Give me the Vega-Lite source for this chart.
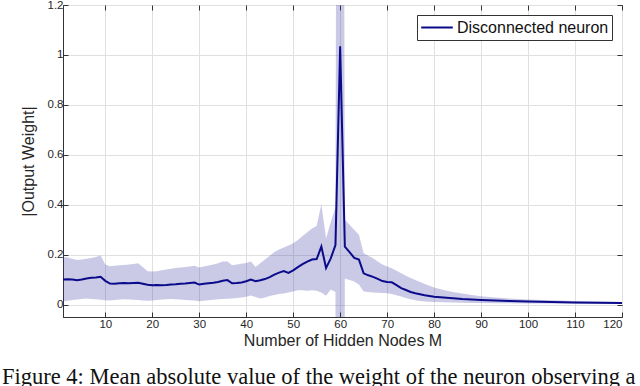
{
  "$schema": "https://vega.github.io/schema/vega-lite/v6.json",
  "autosize": {"type": "none"},
  "width": 559,
  "height": 312,
  "padding": {"left": 63, "top": 5, "right": 18, "bottom": 69},
  "background": "white",
  "config": {
    "font": "Liberation Sans",
    "view": {"stroke": "#333333", "strokeWidth": 1},
    "axis": {
      "labelFont": "Liberation Sans",
      "titleFont": "Liberation Sans",
      "labelFontSize": 11.5,
      "titleFontSize": 16,
      "labelColor": "#262626",
      "titleColor": "#262626",
      "titleFontWeight": "normal",
      "domainColor": "#333333",
      "tickColor": "#333333",
      "gridColor": "#e0e0e0",
      "tickSize": -5,
      "labelOverlap": false
    }
  },
  "title": {
    "text": "Figure 4: Mean absolute value of the weight of the neuron observing a",
    "orient": "bottom",
    "anchor": "start",
    "frame": "group",
    "dx": -61,
    "offset": 17,
    "font": "Liberation Serif",
    "fontSize": 22.5,
    "fontWeight": "normal",
    "color": "#111111"
  },
  "data": {
    "values": [
      {"m": 1, "mean": 0.100, "lo": 0.012, "hi": 0.190, "series": "Disconnected neuron"},
      {"m": 2, "mean": 0.101, "lo": 0.015, "hi": 0.188, "series": "Disconnected neuron"},
      {"m": 3, "mean": 0.100, "lo": 0.018, "hi": 0.183, "series": "Disconnected neuron"},
      {"m": 4, "mean": 0.097, "lo": 0.020, "hi": 0.178, "series": "Disconnected neuron"},
      {"m": 5, "mean": 0.100, "lo": 0.022, "hi": 0.180, "series": "Disconnected neuron"},
      {"m": 6, "mean": 0.104, "lo": 0.024, "hi": 0.183, "series": "Disconnected neuron"},
      {"m": 7, "mean": 0.107, "lo": 0.022, "hi": 0.186, "series": "Disconnected neuron"},
      {"m": 8, "mean": 0.108, "lo": 0.021, "hi": 0.190, "series": "Disconnected neuron"},
      {"m": 9, "mean": 0.111, "lo": 0.019, "hi": 0.196, "series": "Disconnected neuron"},
      {"m": 10, "mean": 0.095, "lo": 0.017, "hi": 0.160, "series": "Disconnected neuron"},
      {"m": 11, "mean": 0.084, "lo": 0.016, "hi": 0.153, "series": "Disconnected neuron"},
      {"m": 12, "mean": 0.083, "lo": 0.018, "hi": 0.155, "series": "Disconnected neuron"},
      {"m": 13, "mean": 0.085, "lo": 0.020, "hi": 0.157, "series": "Disconnected neuron"},
      {"m": 14, "mean": 0.086, "lo": 0.021, "hi": 0.158, "series": "Disconnected neuron"},
      {"m": 15, "mean": 0.085, "lo": 0.020, "hi": 0.160, "series": "Disconnected neuron"},
      {"m": 16, "mean": 0.086, "lo": 0.019, "hi": 0.162, "series": "Disconnected neuron"},
      {"m": 17, "mean": 0.087, "lo": 0.018, "hi": 0.165, "series": "Disconnected neuron"},
      {"m": 18, "mean": 0.083, "lo": 0.016, "hi": 0.150, "series": "Disconnected neuron"},
      {"m": 19, "mean": 0.079, "lo": 0.015, "hi": 0.133, "series": "Disconnected neuron"},
      {"m": 20, "mean": 0.077, "lo": 0.016, "hi": 0.132, "series": "Disconnected neuron"},
      {"m": 21, "mean": 0.078, "lo": 0.018, "hi": 0.133, "series": "Disconnected neuron"},
      {"m": 22, "mean": 0.077, "lo": 0.020, "hi": 0.137, "series": "Disconnected neuron"},
      {"m": 23, "mean": 0.078, "lo": 0.021, "hi": 0.140, "series": "Disconnected neuron"},
      {"m": 24, "mean": 0.080, "lo": 0.022, "hi": 0.143, "series": "Disconnected neuron"},
      {"m": 25, "mean": 0.081, "lo": 0.021, "hi": 0.146, "series": "Disconnected neuron"},
      {"m": 26, "mean": 0.083, "lo": 0.020, "hi": 0.148, "series": "Disconnected neuron"},
      {"m": 27, "mean": 0.084, "lo": 0.018, "hi": 0.150, "series": "Disconnected neuron"},
      {"m": 28, "mean": 0.086, "lo": 0.017, "hi": 0.152, "series": "Disconnected neuron"},
      {"m": 29, "mean": 0.088, "lo": 0.016, "hi": 0.155, "series": "Disconnected neuron"},
      {"m": 30, "mean": 0.080, "lo": 0.013, "hi": 0.148, "series": "Disconnected neuron"},
      {"m": 31, "mean": 0.083, "lo": 0.015, "hi": 0.152, "series": "Disconnected neuron"},
      {"m": 32, "mean": 0.085, "lo": 0.017, "hi": 0.156, "series": "Disconnected neuron"},
      {"m": 33, "mean": 0.087, "lo": 0.019, "hi": 0.160, "series": "Disconnected neuron"},
      {"m": 34, "mean": 0.090, "lo": 0.021, "hi": 0.165, "series": "Disconnected neuron"},
      {"m": 35, "mean": 0.095, "lo": 0.022, "hi": 0.172, "series": "Disconnected neuron"},
      {"m": 36, "mean": 0.098, "lo": 0.023, "hi": 0.172, "series": "Disconnected neuron"},
      {"m": 37, "mean": 0.085, "lo": 0.024, "hi": 0.157, "series": "Disconnected neuron"},
      {"m": 38, "mean": 0.086, "lo": 0.026, "hi": 0.160, "series": "Disconnected neuron"},
      {"m": 39, "mean": 0.088, "lo": 0.028, "hi": 0.163, "series": "Disconnected neuron"},
      {"m": 40, "mean": 0.093, "lo": 0.031, "hi": 0.166, "series": "Disconnected neuron"},
      {"m": 41, "mean": 0.100, "lo": 0.036, "hi": 0.172, "series": "Disconnected neuron"},
      {"m": 42, "mean": 0.093, "lo": 0.030, "hi": 0.150, "series": "Disconnected neuron"},
      {"m": 43, "mean": 0.097, "lo": 0.024, "hi": 0.165, "series": "Disconnected neuron"},
      {"m": 44, "mean": 0.102, "lo": 0.028, "hi": 0.180, "series": "Disconnected neuron"},
      {"m": 45, "mean": 0.110, "lo": 0.034, "hi": 0.195, "series": "Disconnected neuron"},
      {"m": 46, "mean": 0.120, "lo": 0.038, "hi": 0.210, "series": "Disconnected neuron"},
      {"m": 47, "mean": 0.128, "lo": 0.042, "hi": 0.220, "series": "Disconnected neuron"},
      {"m": 48, "mean": 0.134, "lo": 0.044, "hi": 0.228, "series": "Disconnected neuron"},
      {"m": 49, "mean": 0.127, "lo": 0.048, "hi": 0.236, "series": "Disconnected neuron"},
      {"m": 50, "mean": 0.137, "lo": 0.052, "hi": 0.245, "series": "Disconnected neuron"},
      {"m": 51, "mean": 0.150, "lo": 0.057, "hi": 0.258, "series": "Disconnected neuron"},
      {"m": 52, "mean": 0.162, "lo": 0.057, "hi": 0.275, "series": "Disconnected neuron"},
      {"m": 53, "mean": 0.172, "lo": 0.055, "hi": 0.290, "series": "Disconnected neuron"},
      {"m": 54, "mean": 0.180, "lo": 0.057, "hi": 0.305, "series": "Disconnected neuron"},
      {"m": 55, "mean": 0.182, "lo": 0.055, "hi": 0.315, "series": "Disconnected neuron"},
      {"m": 56, "mean": 0.232, "lo": 0.048, "hi": 0.402, "series": "Disconnected neuron"},
      {"m": 57, "mean": 0.146, "lo": 0.035, "hi": 0.265, "series": "Disconnected neuron"},
      {"m": 58, "mean": 0.185, "lo": 0.060, "hi": 0.330, "series": "Disconnected neuron"},
      {"m": 59, "mean": 0.238, "lo": 0.050, "hi": 0.390, "series": "Disconnected neuron"},
      {"m": 60, "mean": 1.035, "lo": -8, "hi": 8, "series": "Disconnected neuron"},
      {"m": 61, "mean": 0.232, "lo": 0.104, "hi": 0.340, "series": "Disconnected neuron"},
      {"m": 62, "mean": 0.210, "lo": 0.098, "hi": 0.320, "series": "Disconnected neuron"},
      {"m": 63, "mean": 0.187, "lo": 0.092, "hi": 0.300, "series": "Disconnected neuron"},
      {"m": 64, "mean": 0.180, "lo": 0.080, "hi": 0.280, "series": "Disconnected neuron"},
      {"m": 65, "mean": 0.125, "lo": 0.052, "hi": 0.205, "series": "Disconnected neuron"},
      {"m": 66, "mean": 0.117, "lo": 0.050, "hi": 0.195, "series": "Disconnected neuron"},
      {"m": 67, "mean": 0.111, "lo": 0.048, "hi": 0.185, "series": "Disconnected neuron"},
      {"m": 68, "mean": 0.103, "lo": 0.047, "hi": 0.172, "series": "Disconnected neuron"},
      {"m": 69, "mean": 0.094, "lo": 0.046, "hi": 0.160, "series": "Disconnected neuron"},
      {"m": 70, "mean": 0.090, "lo": 0.045, "hi": 0.152, "series": "Disconnected neuron"},
      {"m": 71, "mean": 0.089, "lo": 0.042, "hi": 0.145, "series": "Disconnected neuron"},
      {"m": 72, "mean": 0.078, "lo": 0.037, "hi": 0.135, "series": "Disconnected neuron"},
      {"m": 73, "mean": 0.066, "lo": 0.032, "hi": 0.125, "series": "Disconnected neuron"},
      {"m": 74, "mean": 0.058, "lo": 0.026, "hi": 0.115, "series": "Disconnected neuron"},
      {"m": 75, "mean": 0.050, "lo": 0.021, "hi": 0.106, "series": "Disconnected neuron"},
      {"m": 76, "mean": 0.045, "lo": 0.017, "hi": 0.098, "series": "Disconnected neuron"},
      {"m": 77, "mean": 0.041, "lo": 0.014, "hi": 0.090, "series": "Disconnected neuron"},
      {"m": 78, "mean": 0.037, "lo": 0.012, "hi": 0.082, "series": "Disconnected neuron"},
      {"m": 79, "mean": 0.034, "lo": 0.011, "hi": 0.075, "series": "Disconnected neuron"},
      {"m": 80, "mean": 0.031, "lo": 0.010, "hi": 0.068, "series": "Disconnected neuron"},
      {"m": 82, "mean": 0.028, "lo": 0.009, "hi": 0.058, "series": "Disconnected neuron"},
      {"m": 84, "mean": 0.025, "lo": 0.008, "hi": 0.050, "series": "Disconnected neuron"},
      {"m": 86, "mean": 0.022, "lo": 0.007, "hi": 0.044, "series": "Disconnected neuron"},
      {"m": 88, "mean": 0.020, "lo": 0.006, "hi": 0.038, "series": "Disconnected neuron"},
      {"m": 90, "mean": 0.018, "lo": 0.006, "hi": 0.033, "series": "Disconnected neuron"},
      {"m": 93, "mean": 0.016, "lo": 0.005, "hi": 0.028, "series": "Disconnected neuron"},
      {"m": 96, "mean": 0.014, "lo": 0.005, "hi": 0.024, "series": "Disconnected neuron"},
      {"m": 100, "mean": 0.012, "lo": 0.004, "hi": 0.020, "series": "Disconnected neuron"},
      {"m": 105, "mean": 0.010, "lo": 0.004, "hi": 0.017, "series": "Disconnected neuron"},
      {"m": 110, "mean": 0.008, "lo": 0.003, "hi": 0.014, "series": "Disconnected neuron"},
      {"m": 115, "mean": 0.007, "lo": 0.003, "hi": 0.012, "series": "Disconnected neuron"},
      {"m": 120, "mean": 0.006, "lo": 0.003, "hi": 0.010, "series": "Disconnected neuron"}
    ]
  },
  "layer": [
    {
      "mark": {"type": "area", "clip": true, "color": "#2a2a9c", "opacity": 0.25},
      "encoding": {
        "x": {
          "field": "m", "type": "quantitative",
          "scale": {"domain": [1, 120], "nice": false, "zero": false},
          "axis": {"orient": "bottom", "values": [10, 20, 30, 40, 50, 60, 70, 80, 90, 100, 110, 120], "grid": true, "title": "Number of Hidden Nodes M", "titlePadding": 3, "labelPadding": 6, "format": "d"}
        },
        "y": {
          "field": "lo", "type": "quantitative",
          "scale": {"domain": [-0.05, 1.2], "nice": false, "zero": false},
          "axis": {"orient": "left", "values": [0, 0.2, 0.4, 0.6, 0.8, 1, 1.2], "grid": true, "title": "|Output Weight|", "titlePadding": 11, "labelPadding": 5, "format": "~g"}
        },
        "y2": {"field": "hi"}
      }
    },
    {
      "mark": {"type": "line", "clip": true, "strokeWidth": 2},
      "encoding": {
        "x": {
          "field": "m", "type": "quantitative",
          "axis": {"orient": "top", "values": [10, 20, 30, 40, 50, 60, 70, 80, 90, 100, 110, 120], "grid": false, "labels": false, "title": null, "domain": false}
        },
        "y": {
          "field": "mean", "type": "quantitative",
          "axis": {"orient": "right", "values": [0, 0.2, 0.4, 0.6, 0.8, 1, 1.2], "grid": false, "labels": false, "title": null, "domain": false}
        },
        "color": {
          "field": "series", "type": "nominal",
          "scale": {"domain": ["Disconnected neuron"], "range": ["#0a0a8a"]},
          "legend": {
            "title": null,
            "orient": "top-right",
            "offset": 10,
            "symbolType": "stroke",
            "symbolSize": 1000,
            "symbolStrokeWidth": 2,
            "clipHeight": 19,
            "labelFont": "Liberation Sans",
            "labelFontSize": 16,
            "labelColor": "#111111",
            "strokeColor": "#333333",
            "fillColor": "white",
            "padding": 3,
            "labelOffset": 3
          }
        }
      }
    }
  ],
  "resolve": {"axis": {"x": "independent", "y": "independent"}}
}
